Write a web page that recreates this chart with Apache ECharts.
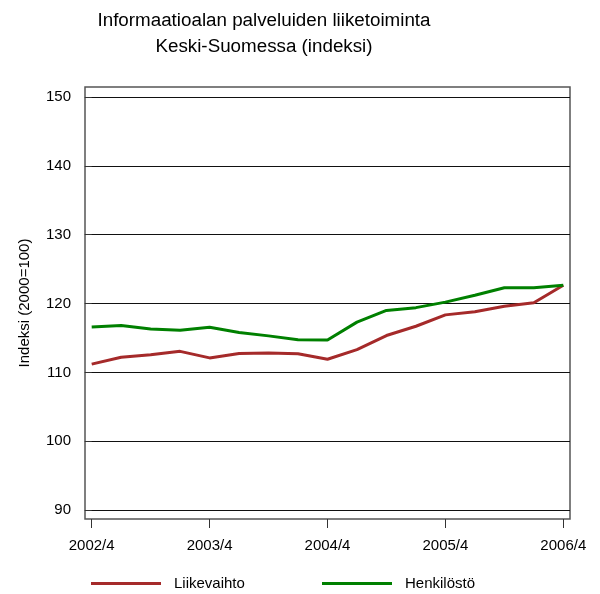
<!DOCTYPE html>
<html>
<head>
<meta charset="utf-8">
<script src="https://cdn.jsdelivr.net/npm/echarts@6/dist/echarts.min.js"></script>
<style>
  html, body { margin: 0; padding: 0; background: #fff; }
  #chart { width: 600px; height: 594px; }
</style>
</head>
<body>
<div id="chart"></div>
<script>
// Quarterly index, 2000 = 100
const quarters = [
  '2002/4', '2003/1', '2003/2', '2003/3', '2003/4',
  '2004/1', '2004/2', '2004/3', '2004/4',
  '2005/1', '2005/2', '2005/3', '2005/4',
  '2006/1', '2006/2', '2006/3', '2006/4'
];
const liikevaihto = [111.2, 112.2, 112.55, 113.05, 112.1, 112.75, 112.8, 112.7, 111.9,
  113.3, 115.35, 116.7, 118.35, 118.8, 119.6, 120.1, 122.65];
const henkilosto = [116.6, 116.8, 116.3, 116.1, 116.55, 115.8, 115.3, 114.75, 114.7,
  117.3, 119.0, 119.4, 120.2, 121.2, 122.3, 122.3, 122.65];
const xTickIdx = [0, 4, 8, 12, 16];
const yTicks = [90, 100, 110, 120, 130, 140, 150];

const FONT = '"Liberation Sans", Arial, sans-serif';
const chart = echarts.init(document.getElementById('chart'));

const toPairs = arr => arr.map((v, i) => [i, v]);

chart.setOption({
  animation: false,
  backgroundColor: '#fff',
  title: {
    text: 'Informaatioalan palveluiden liiketoiminta\nKeski-Suomessa (indeksi)',
    left: 259,
    top: 3,
    textAlign: 'center',
    textStyle: { fontFamily: FONT, fontSize: 18.8, fontWeight: 'normal', color: '#000', lineHeight: 26 }
  },
  legend: [
    {
      data: ['Liikevaihto'], left: 91, top: 576, padding: 0, icon: 'rect', itemWidth: 70, itemHeight: 3,
      textStyle: { fontFamily: FONT, fontSize: 15, color: '#000', padding: [0, 0, 0, 8] }
    },
    {
      data: ['Henkilöstö'], left: 322, top: 576, padding: 0, icon: 'rect', itemWidth: 70, itemHeight: 3,
      textStyle: { fontFamily: FONT, fontSize: 15, color: '#000', padding: [0, 0, 0, 8] }
    }
  ],
  grid: {
    left: 85, right: 30, top: 87, bottom: 75,
    show: true, borderColor: '#555', borderWidth: 1.5, containLabel: false
  },
  xAxis: {
    type: 'value',
    min: -0.227, max: 16.227,
    axisLine: { show: false },
    axisTick: { show: true, length: 9, customValues: xTickIdx, lineStyle: { color: '#333', width: 1 } },
    axisLabel: {
      customValues: xTickIdx, margin: 19,
      formatter: v => quarters[Math.round(v)] || '',
      fontFamily: FONT, fontSize: 15, color: '#000'
    },
    splitLine: { show: false }
  },
  yAxis: {
    type: 'value',
    min: 88.7, max: 151.45,
    name: 'Indeksi (2000=100)',
    nameLocation: 'middle',
    nameGap: 53,
    nameTextStyle: { fontFamily: FONT, fontSize: 15, color: '#000' },
    axisLine: { show: false },
    axisTick: { show: true, length: 7, customValues: yTicks, lineStyle: { color: '#333', width: 1 } },
    axisLabel: { customValues: yTicks, margin: 14, fontFamily: FONT, fontSize: 15, color: '#000' },
    splitLine: { show: true, lineStyle: { color: '#111', width: 1 } }
  },
  series: [
    {
      name: 'Liikevaihto', type: 'line', data: toPairs(liikevaihto),
      showSymbol: false, symbol: 'none',
      lineStyle: { color: '#a52a2a', width: 3 }, itemStyle: { color: '#a52a2a' }
    },
    {
      name: 'Henkilöstö', type: 'line', data: toPairs(henkilosto),
      showSymbol: false, symbol: 'none',
      lineStyle: { color: '#008000', width: 3 }, itemStyle: { color: '#008000' }
    }
  ]
});
</script>
</body>
</html>
